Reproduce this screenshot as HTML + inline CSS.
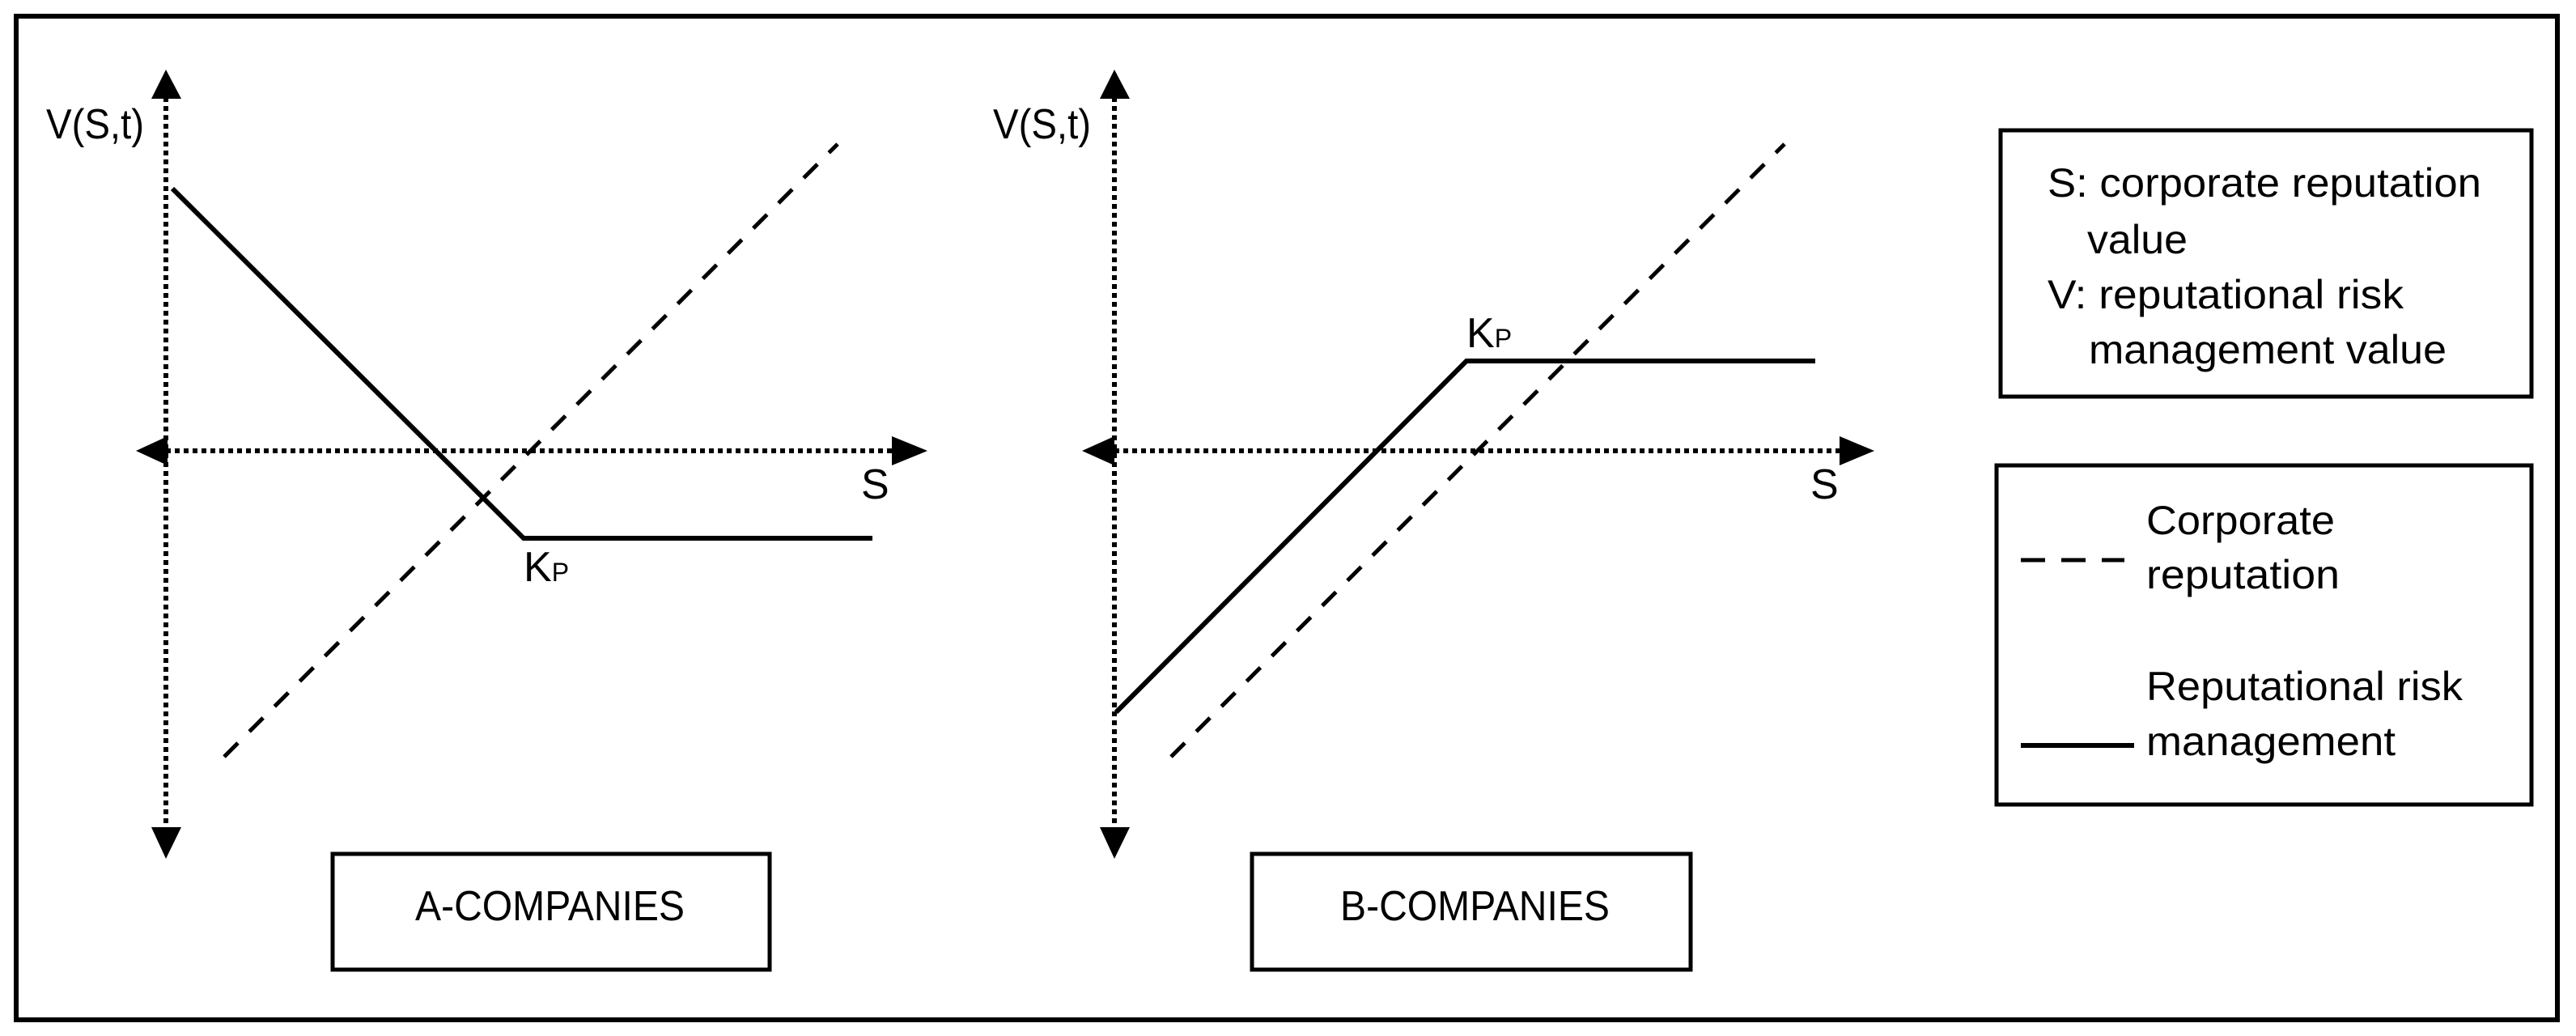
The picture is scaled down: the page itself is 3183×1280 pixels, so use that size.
<!DOCTYPE html>
<html><head><meta charset="utf-8"><style>html,body{margin:0;padding:0;background:#fff}svg{display:block}</style></head>
<body>
<svg width="3183" height="1280" viewBox="0 0 3183 1280" xmlns="http://www.w3.org/2000/svg" font-family="Liberation Sans, sans-serif" font-size="52" fill="#000">
<rect x="0" y="0" width="3183" height="1280" fill="#fff"/>
<rect x="20" y="20" width="3140" height="1240" fill="none" stroke="#000" stroke-width="6"/>

<!-- Panel A -->
<g stroke="#000" stroke-width="6" stroke-dasharray="6,5" fill="none">
<line x1="205" y1="120" x2="205" y2="1024"/>
<line x1="205" y1="557" x2="1104" y2="557"/>
</g>
<polygon points="205,86 187,122 224,122"/>
<polygon points="205,1061 187,1022 224,1022"/>
<polygon points="168,557 207,539 207,575"/>
<polygon points="1146,557 1102,539 1102,575"/>
<polyline points="213,233 647,665 1078,665" fill="none" stroke="#000" stroke-width="6"/>
<line x1="277" y1="935" x2="1035" y2="178" stroke="#000" stroke-width="5" stroke-dasharray="24,20"/>
<text x="57" y="171" textLength="121" lengthAdjust="spacingAndGlyphs">V(S,t)</text>
<text x="1064" y="616">S</text>
<text x="647" y="718">K<tspan font-size="32">P</tspan></text>
<rect x="411" y="1055" width="540" height="143" fill="none" stroke="#000" stroke-width="5"/>
<text x="513" y="1137" textLength="333" lengthAdjust="spacingAndGlyphs">A-COMPANIES</text>

<!-- Panel B -->
<g stroke="#000" stroke-width="6" stroke-dasharray="6,5" fill="none">
<line x1="1377" y1="120" x2="1377" y2="1024"/>
<line x1="1377" y1="557" x2="2275" y2="557"/>
</g>
<polygon points="1377,86 1359,122 1396,122"/>
<polygon points="1377,1061 1359,1022 1396,1022"/>
<polygon points="1337,557 1377,539 1377,575"/>
<polygon points="2316,557 2273,539 2273,575"/>
<polyline points="1379,880 1812,446 2243,446" fill="none" stroke="#000" stroke-width="6"/>
<line x1="1447" y1="935" x2="2205" y2="178" stroke="#000" stroke-width="5" stroke-dasharray="24,20"/>
<text x="1227" y="171" textLength="121" lengthAdjust="spacingAndGlyphs">V(S,t)</text>
<text x="2237" y="616">S</text>
<text x="1812" y="429">K<tspan font-size="32">P</tspan></text>
<rect x="1547" y="1055" width="542" height="143" fill="none" stroke="#000" stroke-width="5"/>
<text x="1656" y="1137" textLength="333" lengthAdjust="spacingAndGlyphs">B-COMPANIES</text>

<!-- Legend -->
<rect x="2472" y="161" width="656" height="329" fill="none" stroke="#000" stroke-width="5"/>
<text x="2530" y="243" font-size="50" textLength="536" lengthAdjust="spacingAndGlyphs">S: corporate reputation</text>
<text x="2579" y="313" font-size="50" textLength="124" lengthAdjust="spacingAndGlyphs">value</text>
<text x="2530" y="381" font-size="50" textLength="440" lengthAdjust="spacingAndGlyphs">V: reputational risk</text>
<text x="2581" y="449" font-size="50" textLength="442" lengthAdjust="spacingAndGlyphs">management value</text>

<rect x="2467" y="575" width="661" height="419" fill="none" stroke="#000" stroke-width="5"/>
<line x1="2497" y1="692" x2="2625" y2="692" stroke="#000" stroke-width="5" stroke-dasharray="30,20"/>
<line x1="2497" y1="921" x2="2637" y2="921" stroke="#000" stroke-width="6"/>
<text x="2652" y="660" font-size="50" textLength="233" lengthAdjust="spacingAndGlyphs">Corporate</text>
<text x="2652" y="727" font-size="50" textLength="239" lengthAdjust="spacingAndGlyphs">reputation</text>
<text x="2652" y="865" font-size="50" textLength="391" lengthAdjust="spacingAndGlyphs">Reputational risk</text>
<text x="2652" y="933" font-size="50" textLength="308" lengthAdjust="spacingAndGlyphs">management</text>
</svg>
</body></html>
